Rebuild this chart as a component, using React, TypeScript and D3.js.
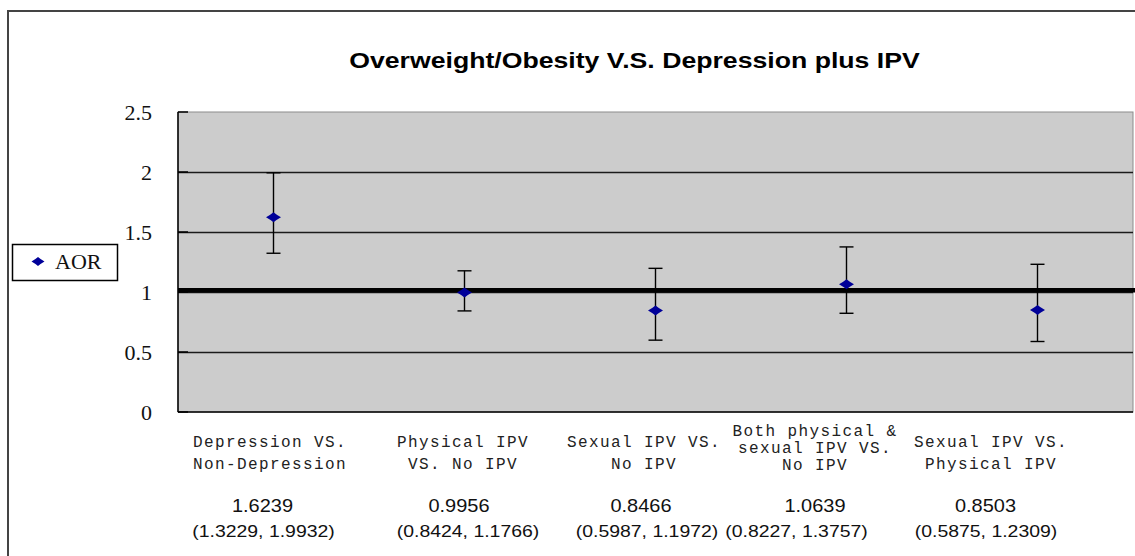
import React from "react";
import * as d3 from "d3";

const categories: string[][] = [
  ["Depression VS.", "Non-Depression"],
  ["Physical IPV", "VS. No IPV"],
  ["Sexual IPV VS.", "No IPV"],
  ["Both physical &", "sexual IPV VS.", "No IPV"],
  ["Sexual IPV VS.", "Physical IPV"],
];
const aor = [1.6239, 0.9956, 0.8466, 1.0639, 0.8503];
const lower = [1.3229, 0.8424, 0.5987, 0.8227, 0.5875];
const upper = [1.9932, 1.1766, 1.1972, 1.3757, 1.2309];
const valueLabels = ["1.6239", "0.9956", "0.8466", "1.0639", "0.8503"];
const ciLabels = [
  "(1.3229, 1.9932)",
  "(0.8424, 1.1766)",
  "(0.5987, 1.1972)",
  "(0.8227, 1.3757)",
  "(0.5875, 1.2309)",
];
const yTicks = [0, 0.5, 1, 1.5, 2, 2.5];
const yTickLabels = ["0", "0.5", "1", "1.5", "2", "2.5"];
const refLineValue = 1.015;
const title = "Overweight/Obesity V.S. Depression plus IPV";
const seriesName = "AOR";

// layout (text columns of the table below the chart)
const labelX = [270, 463, 644, 815, 991];
const valueX = [262.5, 459, 641, 815, 985.5];
const ciX = [263.5, 468, 647, 796.5, 986];

const W = 1135;
const H = 556;
const plot = { left: 178, top: 112, right: 1133, bottom: 412 };
const SX = 1.13;

export default function App() {
  const y = d3.scaleLinear().domain([0, 2.5]).range([plot.bottom, plot.top]);
  const x = d3
    .scaleBand<number>()
    .domain(d3.range(categories.length))
    .range([plot.left, plot.right]);
  const cx = (i: number) => (x(i) as number) + x.bandwidth() / 2;
  const diamond = (px: number, py: number, hw: number, hh: number) =>
    `M${px - hw},${py} Q${px - hw * 0.35},${py - hh * 0.55} ${px},${py - hh} Q${px + hw * 0.35},${py - hh * 0.55} ${px + hw},${py} Q${px + hw * 0.35},${py + hh * 0.55} ${px},${py + hh} Q${px - hw * 0.35},${py + hh * 0.55} ${px - hw},${py} Z`;
  const markerColor = "#000099";

  return (
    <svg
      width={W}
      height={H}
      style={{ position: "absolute", left: 0, top: 0, background: "#fff" }}
    >
      <rect x={0} y={0} width={W} height={H} fill="#fff" />
      {/* outer chart border */}
      <rect x={8} y={11} width={W + 20} height={H + 20} fill="none" stroke="#444" strokeWidth={2} />

      {/* title */}
      <text
        transform={`translate(634.5,68) scale(1.24,1)`}
        textAnchor="middle"
        fontFamily="'Liberation Sans', Arial, sans-serif"
        fontWeight="bold"
        fontSize={21.5}
        fill="#000"
      >
        {title}
      </text>

      {/* plot area */}
      <rect
        x={plot.left}
        y={plot.top}
        width={plot.right - plot.left}
        height={plot.bottom - plot.top}
        fill="#cccccc"
        stroke="#8c8c8c"
        strokeWidth={1}
      />
      {/* gridlines */}
      {yTicks
        .filter((t) => t > 0 && t < 2.5)
        .map((t) => (
          <line
            key={`g${t}`}
            x1={plot.left}
            x2={plot.right}
            y1={Math.round(y(t)) + 0.5}
            y2={Math.round(y(t)) + 0.5}
            stroke="#1a1a1a"
            strokeWidth={1.3}
          />
        ))}
      {/* tick marks */}
      {yTicks.map((t) => (
        <line key={`t${t}`} x1={plot.left} x2={plot.left + 10} y1={y(t)} y2={y(t)} stroke="#000" strokeWidth={1.5} />
      ))}
      {/* axes */}
      <line x1={plot.left} x2={plot.left} y1={plot.top} y2={plot.bottom} stroke="#000" strokeWidth={1.5} />
      <line x1={plot.left} x2={plot.right} y1={plot.bottom} y2={plot.bottom} stroke="#000" strokeWidth={1.5} />

      {/* tick labels */}
      {yTicks.map((t, i) => (
        <text
          key={`tl${t}`}
          x={152}
          y={y(t)}
          dy="0.35em"
          textAnchor="end"
          fontFamily="'Liberation Serif', 'Times New Roman', serif"
          fontSize={22}
          fill="#111"
        >
          {yTickLabels[i]}
        </text>
      ))}

      {/* reference line */}
      <line
        x1={plot.left}
        x2={W}
        y1={y(refLineValue)}
        y2={y(refLineValue)}
        stroke="#000"
        strokeWidth={4.5}
      />

      {/* error bars and markers */}
      {aor.map((v, i) => {
        const px = cx(i);
        return (
          <g key={`p${i}`}>
            <line x1={px} x2={px} y1={y(upper[i])} y2={y(lower[i])} stroke="#000" strokeWidth={1.4} />
            <line x1={px - 7} x2={px + 7} y1={y(upper[i])} y2={y(upper[i])} stroke="#000" strokeWidth={1.4} />
            <line x1={px - 7} x2={px + 7} y1={y(lower[i])} y2={y(lower[i])} stroke="#000" strokeWidth={1.4} />
            <path d={diamond(px, y(v), 7.5, 5)} fill={markerColor} />
          </g>
        );
      })}

      {/* legend */}
      <rect x={12.5} y={244.5} width={105} height={36} fill="#fff" stroke="#000" strokeWidth={1.5} />
      <path d={diamond(38, 261.5, 6.5, 4.5)} fill={markerColor} />
      <text
        x={55}
        y={268.5}
        fontFamily="'Liberation Serif', 'Times New Roman', serif"
        fontSize={22}
        fill="#111"
      >
        {seriesName}
      </text>

      {/* category labels */}
      {categories.map((lines, i) => {
        const baselines = lines.length === 3 ? [436, 452.5, 469.5] : [446.5, 469];
        return lines.map((ln, j) => (
          <text
            key={`c${i}-${j}`}
            x={labelX[i]}
            y={baselines[j]}
            textAnchor="middle"
            fontFamily="'Liberation Mono', 'Courier New', monospace"
            fontSize={16}
            letterSpacing={1.4}
            fill="#222"
          >
            {ln}
          </text>
        ));
      })}

      {/* values */}
      {valueLabels.map((s, i) => (
        <text
          key={`v${i}`}
          transform={`translate(${valueX[i]},511.5) scale(${SX},1)`}
          textAnchor="middle"
          fontFamily="'Liberation Sans', Arial, sans-serif"
          fontSize={17.7}
          fill="#111"
        >
          {s}
        </text>
      ))}
      {ciLabels.map((s, i) => (
        <text
          key={`ci${i}`}
          transform={`translate(${ciX[i]},536.5) scale(${SX},1)`}
          textAnchor="middle"
          fontFamily="'Liberation Sans', Arial, sans-serif"
          fontSize={17.2}
          fill="#111"
        >
          {s}
        </text>
      ))}
    </svg>
  );
}
